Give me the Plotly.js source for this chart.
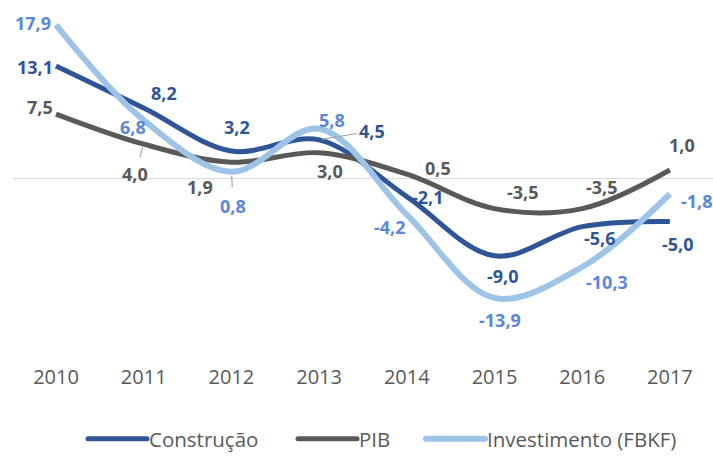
<!DOCTYPE html>
<html>
<head>
<meta charset="utf-8">
<script src="https://cdn.plot.ly/plotly-3.0.1.min.js"></script>
<style>html,body{margin:0;padding:0;background:#fff;}#chart{width:713px;height:459px;}</style>
</head>
<body>
<div id="chart"></div>
<script>
// ---- data ----
var years = ['2010','2011','2012','2013','2014','2015','2016','2017'];
var construcao = [13.1, 8.2, 3.2, 4.5, -2.1, -9.0, -5.6, -5.0];
var pib = [7.5, 4.0, 1.9, 3.0, 0.5, -3.5, -3.5, 1.0];
var investimento = [17.9, 6.8, 0.8, 5.8, -4.2, -13.9, -10.3, -1.8];
var seriesNames = ['Construção', 'PIB', 'Investimento (FBKF)'];

// ---- styles / label placement (pixel offsets from each point) ----
var lineColors = ['#2F5597', '#595959', '#9DC3E6'];
var labelColors = ['#2F5597', '#595959', '#5B87D7'];
var lineWidths = [5, 5, 6];
var offC = [[-21,1],[20,-15],[6,-24],[53,-9],[21,0],[8,20],[18,11],[8,23]];
var offP = [[-16,-7],[-9,30],[-31,25],[11,18],[31,-6],[28,-17],[20,-22],[12,-25]];
var offI = [[-23,-2],[-11,7],[2,34],[13,-9],[-17,12],[5,22],[25,15],[27,7]];
// leader lines: [series index, point index, standoff, startstandoff]
var leaders = [[0,3,3,1],[1,1,3,4],[2,2,4,5]];
// legend layout (page px): sample start for each item, sample length
var legendStarts = [88, 298, 426];
var legendSampleLen = 59;

var allSeries = [construcao, pib, investimento];
var allOffsets = [offC, offP, offI];

function fmt(v){ return v.toFixed(1).replace('.', ','); }

var traces = allSeries.map(function(vals, s){
  return {
    x: years, y: vals, name: seriesNames[s], type: 'scatter', mode: 'lines',
    line: {color: lineColors[s], width: lineWidths[s], shape: 'spline', smoothing: 1},
    hoverinfo: 'skip'
  };
});

var annotations = [];
allSeries.forEach(function(vals, s){
  vals.forEach(function(v, i){
    var lead = null;
    leaders.forEach(function(l){ if(l[0]===s && l[1]===i) lead = l; });
    annotations.push({
      x: i, y: v, xref: 'x', yref: 'y',
      text: '<b>' + fmt(v) + '</b>',
      showarrow: true,
      arrowhead: 0,
      arrowwidth: 1.2,
      arrowcolor: lead ? '#A6A6A6' : 'rgba(0,0,0,0)',
      standoff: lead ? lead[2] : 0,
      startstandoff: lead ? lead[3] : 0,
      ax: allOffsets[s][i][0], ay: allOffsets[s][i][1],
      font: {family: 'Open Sans', size: 18, color: labelColors[s]}
    });
  });
});

var layout = {
  width: 713, height: 459,
  margin: {l: 13, r: 0, t: 0, b: 93},
  paper_bgcolor: '#ffffff', plot_bgcolor: '#ffffff',
  showlegend: true,
  legend: {
    orientation: 'h', x: 0.534, xanchor: 'center', y: -0.21, yanchor: 'middle',
    font: {family: 'Open Sans', size: 20.5, color: '#595959'},
    bgcolor: 'rgba(0,0,0,0)',
    traceorder: 'normal'
  },
  xaxis: {
    type: 'category', range: [-0.4903, 7.4914],
    showgrid: false, zeroline: false, showline: false, ticks: '',
    tickfont: {family: 'Open Sans', size: 20, color: '#595959'},
    fixedrange: true
  },
  yaxis: {
    range: [-21.48, 20.79],
    showgrid: false, showticklabels: false, ticks: '', showline: false,
    zeroline: true, zerolinecolor: '#D9D9D9', zerolinewidth: 1.5,
    fixedrange: true
  },
  annotations: annotations
};

Plotly.newPlot('chart', traces, layout, {displayModeBar: false, staticPlot: true}).then(function(gd){
  // stretch legend samples like the reference
  var sb = gd.querySelector('.legend .scrollbox');
  if(sb) sb.removeAttribute('clip-path');
  var lg = gd.querySelector('.legend');
  if(lg) lg.removeAttribute('clip-path');
  var items = gd.querySelectorAll('.legend .traces');
  items.forEach(function(item, k){
    var path = item.querySelector('.legendlines path');
    var text = item.querySelector('text.legendtext');
    if(!path || !text) return;
    path.setAttribute('d', 'M5,0h' + legendSampleLen);
    path.style.strokeLinecap = 'round';
    text.setAttribute('x', 5 + legendSampleLen + 2);
    var r = path.getBoundingClientRect();
    var tr = item.getAttribute('transform') || '';
    var m = /translate\(\s*([-\d.]+)[ ,]+([-\d.]+)\s*\)/.exec(tr);
    var tx = m ? parseFloat(m[1]) : 0, ty = m ? parseFloat(m[2]) : 0;
    var dx = legendStarts[k] - r.left;
    item.setAttribute('transform', 'translate(' + (tx + dx) + ',' + ty + ')');
  });
});
</script>
</body>
</html>
